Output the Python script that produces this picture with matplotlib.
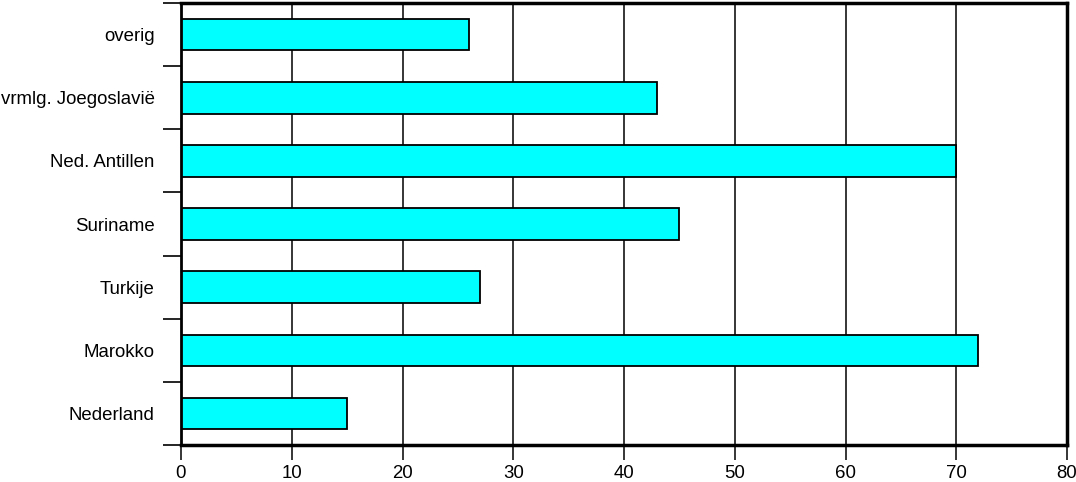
import matplotlib.pyplot as plt
import numpy as np

plt.rcParams['font.family'] = ['Liberation Sans', 'DejaVu Sans']

categories = ['Nederland', 'Marokko', 'Turkije', 'Suriname', 'Ned. Antillen',
              'vrmlg. Joegoslavië', 'overig']
values = [15, 72, 27, 45, 70, 43, 26]
xticks = [0, 10, 20, 30, 40, 50, 60, 70, 80]

fig = plt.figure(figsize=(10.76, 4.82), dpi=100)
ax = fig.add_axes([181 / 1076, 1 - 445 / 482, (1067 - 181) / 1076, (445 - 3) / 482])

y = np.arange(len(categories))
ax.barh(y, values, height=0.5, color='#00ffff', edgecolor='black', linewidth=1.3, zorder=3)

ax.set_xlim(0, 80)
ax.set_ylim(-0.5, len(categories) - 0.5)
ax.set_xticks(xticks)
ax.grid(axis='x', color='black', linewidth=1.1, zorder=1)

# labels in the middle, tick marks between the categories
ax.set_yticks(y)
ax.set_yticklabels(categories)
ax.set_yticks(np.arange(-0.5, len(categories), 1.0), minor=True)
ax.tick_params(axis='y', which='major', length=0, pad=19, labelsize=13.4)
ax.tick_params(axis='y', which='minor', length=13, width=1.2, direction='out')
ax.tick_params(axis='x', length=11, width=1.1, direction='out', pad=3.5, labelsize=13.4)

for side in ['top', 'right', 'bottom']:
    ax.spines[side].set_linewidth(2.5)
ax.spines['left'].set_linewidth(2)
for sp in ax.spines.values():
    sp.set_zorder(4)

fig.savefig('out.png', dpi=100)
